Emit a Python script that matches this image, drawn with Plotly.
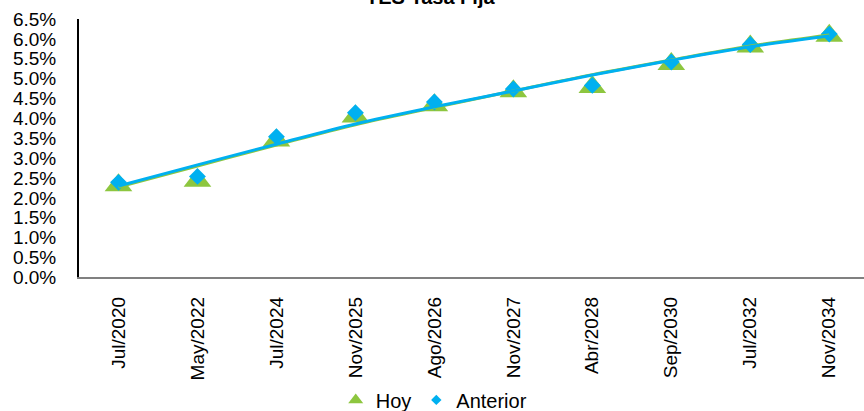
import plotly.graph_objects as go

categories = ["Jul/2020", "May/2022", "Jul/2024", "Nov/2025", "Ago/2026",
              "Nov/2027", "Abr/2028", "Sep/2030", "Jul/2032", "Nov/2034"]
hoy = [2.32, 2.43, 3.44, 4.05, 4.33, 4.68, 4.79, 5.37, 5.81, 6.08]
anterior = [2.39, 2.54, 3.54, 4.14, 4.41, 4.74, 4.83, 5.42, 5.86, 6.12]
trend_hoy = [2.27, 2.80, 3.33, 3.84, 4.27, 4.69, 5.10, 5.47, 5.82, 6.10]
trend_anterior = [2.30, 2.83, 3.35, 3.86, 4.29, 4.69, 5.09, 5.46, 5.80, 6.07]
y_ticks = [i * 0.5 for i in range(14)]
y_tick_labels = [f"{v:.1f}%" for v in y_ticks]
title_text = "TES Tasa Fija"

GREEN = "#8DC63F"
BLUE = "#00B0F0"
FONT = "Liberation Sans, Arial, sans-serif"

fig = go.Figure()
fig.add_trace(go.Scatter(x=categories, y=hoy, mode="markers", name="Hoy", showlegend=False,
                         marker=dict(symbol="triangle-up", size=24, color=GREEN)))
fig.add_trace(go.Scatter(x=categories, y=anterior, mode="markers", name="Anterior",
                         showlegend=False,
                         marker=dict(symbol="diamond", size=13, color=BLUE)))
fig.add_trace(go.Scatter(x=categories, y=trend_hoy, mode="lines", showlegend=False,
                         line=dict(color=GREEN, width=3, shape="spline")))
fig.add_trace(go.Scatter(x=categories, y=trend_anterior, mode="lines", showlegend=False,
                         line=dict(color=BLUE, width=3, shape="spline")))
# legend entries (smaller symbols, like the reference legend)
fig.add_trace(go.Scatter(x=[None], y=[None], mode="markers", name="Hoy",
                         marker=dict(symbol="triangle-up", size=13, color=GREEN)))
fig.add_trace(go.Scatter(x=[None], y=[None], mode="markers", name="Anterior",
                         marker=dict(symbol="diamond", size=8, color=BLUE)))

fig.update_layout(
    width=864, height=411,
    margin=dict(l=79, r=0, t=19, b=127),
    paper_bgcolor="white", plot_bgcolor="white",
    font=dict(family=FONT, size=19, color="black"),
    showlegend=True,
    legend=dict(orientation="h", xref="container", yref="container",
                x=0.502, xanchor="center", y=0.027, yanchor="middle",
                font=dict(size=20), itemwidth=30, tracegroupgap=0),
    annotations=[dict(text="<b>" + title_text + "</b>", xref="paper", yref="paper",
                      x=(430 - 79) / 785, y=1 + (19 - 9.5) / 265, xanchor="center",
                      yanchor="bottom", showarrow=False, font=dict(size=20))],
)
fig.update_xaxes(type="category", range=[-0.5, 9.44], tickangle=-90,
                 showline=True, linecolor="#808080", linewidth=2,
                 showgrid=False, ticks="", ticklabelstandoff=10,
                 tickfont=dict(size=19))
fig.update_yaxes(range=[0, 6.5], tickvals=y_ticks, ticktext=y_tick_labels,
                 showline=True, linecolor="black", linewidth=2,
                 showgrid=False, zeroline=False, ticks="", ticklabelstandoff=17,
                 tickfont=dict(size=19))

fig.write_html("out.html")
